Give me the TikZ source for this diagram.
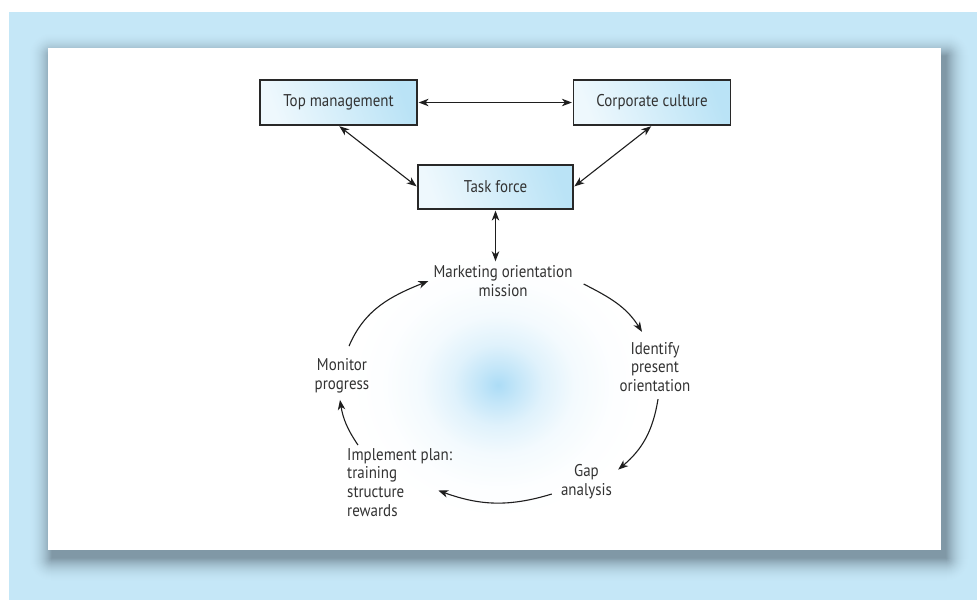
\documentclass[tikz,border=0pt]{standalone}
\usepackage{fontspec}
\setmainfont{PT Sans}[FakeStretch=0.88]
\usetikzlibrary{arrows.meta,calc}
\definecolor{bgblue}{RGB}{197,231,247}
\definecolor{shadowc}{RGB}{128,152,166}
\definecolor{boxA}{RGB}{238,248,253}
\definecolor{boxB}{RGB}{186,227,246}
\definecolor{boxline}{RGB}{40,40,40}
\definecolor{txtc}{RGB}{50,50,50}
\definecolor{arrc}{RGB}{30,30,30}
\definecolor{blobc}{RGB}{172,220,246}
\colorlet{blobA}{blobc!72!white}
\colorlet{blobB}{blobc!38!white}
\colorlet{blobC}{blobc!14!white}
\colorlet{blobD}{blobc!3!white}
\pgfdeclareradialshading{blobshade}{\pgfpoint{0bp}{0bp}}{color(0bp)=(blobc); color(3bp)=(blobA); color(7bp)=(blobB); color(12bp)=(blobC); color(18bp)=(blobD); color(23bp)=(white); color(50bp)=(white)}
\newcommand{\dfont}{\fontsize{17}{18.8}\selectfont}
\tikzset{
  box/.style={draw=boxline, line width=1.2pt, minimum width=157pt, minimum height=45pt,
    left color=boxA, right color=boxB, shading angle=110, font=\dfont, text=txtc},
  txt/.style={align=center, font=\dfont, text=txtc, inner sep=0pt},
  darr/.style={{Stealth[length=10pt,width=7.5pt,inset=3pt]}-{Stealth[length=10pt,width=7.5pt,inset=3pt]}, line width=1.1pt, draw=arrc},
  carr/.style={-{Stealth[length=10pt,width=7.5pt,inset=3pt]}, line width=1.1pt, draw=arrc}
}
\begin{document}
\begin{tikzpicture}[x=1pt,y=1pt]
\useasboundingbox (0,0) rectangle (977,-600);
\fill[white] (0,0) rectangle (977,-600);
\fill[bgblue] (9,-12) rectangle (977,-600);
% blurred shadow
\foreach \e in {24,23,...,1}{
  \pgfmathsetmacro\fr{100*(1-(\e-0.5)/24)^2}
  \fill[shadowc!\fr!bgblue, rounded corners=\e] (52-\e,-56+\e) rectangle (946+\e,-558-\e);
}
\fill[shadowc] (52,-56) rectangle (946,-558);
% panel
\fill[white] (48,-48) rectangle (941,-550);
% central glow
\shade[shading=blobshade] (498,-385) ellipse [x radius=160, y radius=145];
% boxes
\node[box] (tm) at (338.5,-102.5) {Top management};
\node[box] (cc) at (652,-102.5) {Corporate culture};
\node[box, minimum width=155pt, minimum height=44pt] (tf) at (495.5,-187) {Task force};
% cycle labels
\node[txt] (mkt) at (503,-281) {Marketing orientation\\mission};
\node[txt] (ident) at (655,-367) {Identify\\present\\orientation};
\node[txt] (gap) at (586.5,-482) {Gap\\analysis};
\node[txt, align=left, anchor=west] (impl) at (347,-482.5) {Implement plan:\\training\\structure\\rewards};
\node[txt] (mon) at (342,-375.5) {Monitor\\progress};
% connectors
\draw[darr, shorten <=1pt, shorten >=1pt] (tm.east) -- (cc.west);
\draw[darr, shorten <=1pt, shorten >=1pt] (tm.south) -- (tf.west);
\draw[darr, shorten <=1pt, shorten >=1pt] (cc.south) -- (tf.east);
\draw[darr, shorten <=1pt] (tf.south) -- ($(tf.south |- mkt.north)+(0,4)$);
\draw[carr] ($(mkt.east)+(11,-3)$) to[out=-27,in=122] ($(ident.north)+(-13,10)$);
\draw[carr] ($(ident.south)+(3,-7)$) to[out=-99,in=40] ($(gap.north east)+(6,-5)$);
\draw[carr] ($(gap.west)+(-9,-12)$) to[out=197,in=-20] ($(impl.east)+(-14,-8)$);
\draw[carr] ($(impl.north west)+(11,3)$) to[out=124,in=-81] ($(mon.south)+(-2,-7)$);
\draw[carr] ($(mon.north)+(7,12)$) to[out=67,in=-158] ($(mkt.west)+(-5,0)$);
\end{tikzpicture}
\end{document}
